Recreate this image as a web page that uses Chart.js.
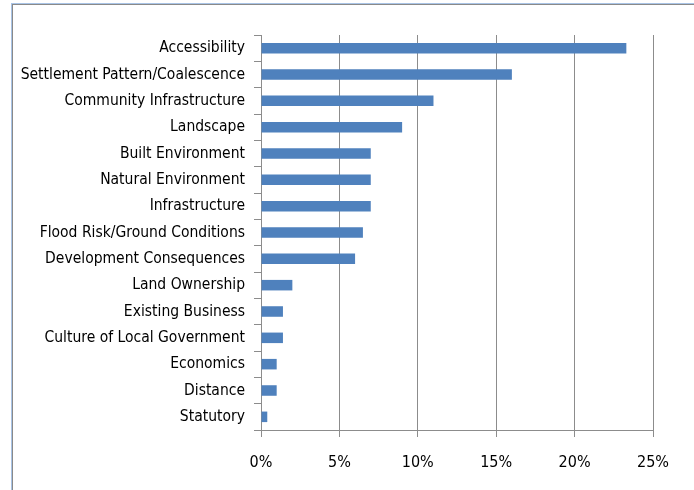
<!DOCTYPE html>
<html>
<head>
<meta charset="utf-8">
<script src="https://cdn.jsdelivr.net/npm/chart.js@4"></script>
<style>
html,body{margin:0;padding:0;background:#fff;}
#wrap{position:relative;width:694px;height:490px;overflow:hidden;}
#frame{position:absolute;left:11px;top:3px;width:700px;height:500px;border-left:1px solid #a9c4e6;border-top:1px solid #a9c4e6;}
#frame2{position:absolute;left:12px;top:4px;width:700px;height:500px;border-left:1px solid #8a8a8a;border-top:1px solid #8a8a8a;}
canvas{position:absolute;left:0;top:0;}
</style>
</head>
<body>
<div id="wrap">
<div id="frame"></div><div id="frame2"></div>
<canvas id="c" width="694" height="490"></canvas>
</div>
<script>
const categories = ["Accessibility","Settlement Pattern/Coalescence","Community Infrastructure","Landscape","Built Environment","Natural Environment","Infrastructure","Flood Risk/Ground Conditions","Development Consequences","Land Ownership","Existing Business","Culture of Local Government","Economics","Distance","Statutory"];
const values = [23.3,16,11,9,7,7,7,6.5,6,2,1.4,1.4,1,1,0.4];
const xTicks = [0,5,10,15,20,25];

const FONT = "'DejaVu Sans Condensed','Liberation Sans Narrow',sans-serif";
new Chart(document.getElementById('c'), {
  type: 'bar',
  data: {
    labels: categories,
    datasets: [{
      data: values,
      backgroundColor: '#4f81bd',
      borderWidth: 0,
      barPercentage: 0.4,
      categoryPercentage: 1
    }]
  },
  options: {
    indexAxis: 'y',
    responsive: false,
    animation: false,
    devicePixelRatio: 1,
    layout: { padding: { top: 35, right: 41, bottom: 0, left: 0 } },
    plugins: { legend: { display: false }, tooltip: { enabled: false } },
    scales: {
      x: {
        min: 0, max: 25,
        afterBuildTicks: (s) => { s.ticks = xTicks.map(v => ({ value: v })); },
        afterFit: (s) => { s.height = 60; },
        grid: { color: '#8c8c8c', lineWidth: 1, tickLength: 7, drawTicks: true, tickColor: '#8c8c8c' },
        border: { display: true, color: '#8c8c8c' },
        ticks: { color: '#000', font: { family: FONT, size: 16 }, padding: 16, callback: (v) => v + '%' }
      },
      y: {
        afterFit: (s) => { s.width = 261; },
        grid: { offset: true, drawOnChartArea: false, tickLength: 7, color: '#8c8c8c' },
        border: { display: true, color: '#8c8c8c' },
        ticks: { color: '#000', font: { family: FONT, size: 15.5 }, padding: 9, autoSkip: false }
      }
    }
  }
});
</script>
</body>
</html>
